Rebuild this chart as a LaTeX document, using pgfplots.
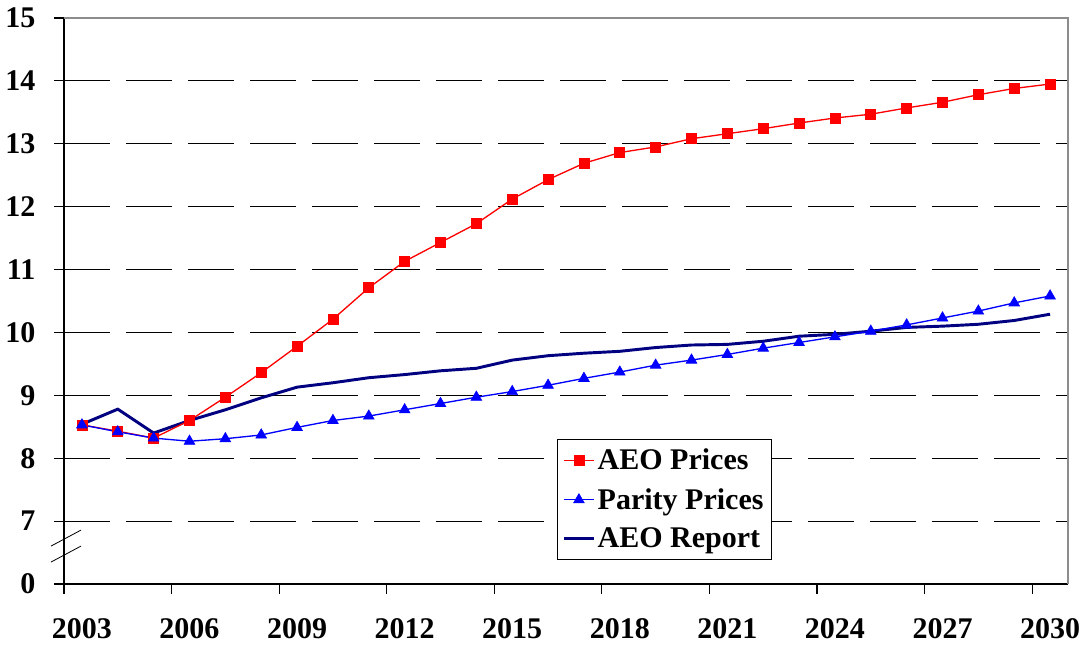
\documentclass[border=0pt]{standalone}
\usepackage{fontspec}
\setmainfont{Liberation Serif}
\usepackage{pgfplots}
\pgfplotsset{compat=1.18}
\definecolor{navyc}{RGB}{0,0,128}
\definecolor{framegray}{RGB}{140,140,140}

\begin{document}
\begin{tikzpicture}
\useasboundingbox (-48pt,-49.5pt) rectangle (768.75pt,438pt);
\begin{axis}[
  at={(0,0)}, anchor=south west,
  scale only axis, width=753pt, height=424.5pt,
  xmin=2002.5, xmax=2030.5, ymin=6, ymax=15,
  clip=false,
  axis lines*=left,
  axis line style={black, line width=0.9pt},
  xtick={2003,2006,2009,2012,2015,2018,2021,2024,2027,2030},
  xticklabels={2003,2006,2009,2012,2015,2018,2021,2024,2027,2030},
  minor xtick={2002.5,2005.5,2008.5,2011.5,2014.5,2017.5,2020.5,2023.5,2026.5,2029.5},
  major x tick style={draw=none},
  minor x tick style={black, line width=0.9pt},
  minor tick length=7.5pt,
  ytick={6,7,8,9,10,11,12,13,14,15},
  yticklabels={0,7,8,9,10,11,12,13,14,15},
  major y tick style={black, line width=0.9pt},
  major tick length=7.5pt,
  tick align=outside,
  ymajorgrids,
  grid style={black, line width=0.75pt, dash pattern=on 34.5pt off 12pt},
  tick label style={font=\fontsize{22.5}{26}\selectfont\bfseries},
  xticklabel style={yshift=-15pt},
  yticklabel style={xshift=-10.5pt},
  /pgf/number format/assume math mode=true,
  legend style={at={(rel axis cs:0.491,0.256)}, anchor=north west,
    font=\fontsize{22.5}{26}\selectfont\bfseries, draw=black, line width=0.75pt,
    inner xsep=4pt, inner ysep=5pt, row sep=8.5pt},
  legend cell align=left,
  legend image code/.code={\draw[mark repeat=2,mark phase=2] plot coordinates {(0pt,0pt) (11pt,0pt) (22pt,0pt)};},
]
% AEO Report (drawn first so it lies beneath)
\addplot[navyc, line width=2.2pt, forget plot] coordinates {
(2003,8.54) (2004,8.78) (2005,8.40) (2006,8.60) (2007,8.77) (2008,8.96) (2009,9.13)
(2010,9.20) (2011,9.28) (2012,9.33) (2013,9.39) (2014,9.43) (2015,9.56) (2016,9.63)
(2017,9.67) (2018,9.70) (2019,9.76) (2020,9.80) (2021,9.81) (2022,9.86) (2023,9.94)
(2024,9.97) (2025,10.02) (2026,10.08) (2027,10.10) (2028,10.13) (2029,10.19) (2030,10.29)
};
% AEO Prices
\addplot[red, line width=1pt, mark=square*, mark size=3.75pt, mark options={solid, fill=red, draw=red, line width=0.5pt}] coordinates {
(2003,8.53) (2004,8.43) (2005,8.32) (2006,8.60) (2007,8.97) (2008,9.36) (2009,9.78)
(2010,10.21) (2011,10.71) (2012,11.13) (2013,11.43) (2014,11.73) (2015,12.12) (2016,12.43)
(2017,12.69) (2018,12.86) (2019,12.95) (2020,13.08) (2021,13.16) (2022,13.24) (2023,13.33)
(2024,13.41) (2025,13.47) (2026,13.57) (2027,13.66) (2028,13.78) (2029,13.88) (2030,13.95)
};
\addlegendentry{AEO Prices}
% Parity Prices
\addplot[blue, line width=1pt, mark=triangle*, mark size=4.6pt, mark options={solid, fill=blue, draw=blue, line width=0.5pt}] coordinates {
(2003,8.53) (2004,8.42) (2005,8.32) (2006,8.27) (2007,8.31) (2008,8.37) (2009,8.49)
(2010,8.60) (2011,8.67) (2012,8.77) (2013,8.87) (2014,8.97) (2015,9.06) (2016,9.16)
(2017,9.27) (2018,9.37) (2019,9.48) (2020,9.56) (2021,9.65) (2022,9.75) (2023,9.84)
(2024,9.93) (2025,10.02) (2026,10.12) (2027,10.23) (2028,10.34) (2029,10.47) (2030,10.58)
};
\addlegendentry{Parity Prices}
\addlegendimage{navyc, line width=2.2pt}
\addlegendentry{AEO Report}
% plot-area border (top and right)
\draw[framegray, line width=0.9pt] (rel axis cs:0,1) -- (rel axis cs:1,1) -- (rel axis cs:1,0);
% axis break marks
\draw[black, line width=0.6pt] ([shift={(-9.75pt,-5.25pt)}]axis cs:2002.5,6.714) -- ([shift={(12.75pt,6.75pt)}]axis cs:2002.5,6.714);
\draw[black, line width=0.6pt] ([shift={(-9.75pt,-5.25pt)}]axis cs:2002.5,6.46) -- ([shift={(12.75pt,6.75pt)}]axis cs:2002.5,6.46);
\end{axis}
\end{tikzpicture}
\end{document}
